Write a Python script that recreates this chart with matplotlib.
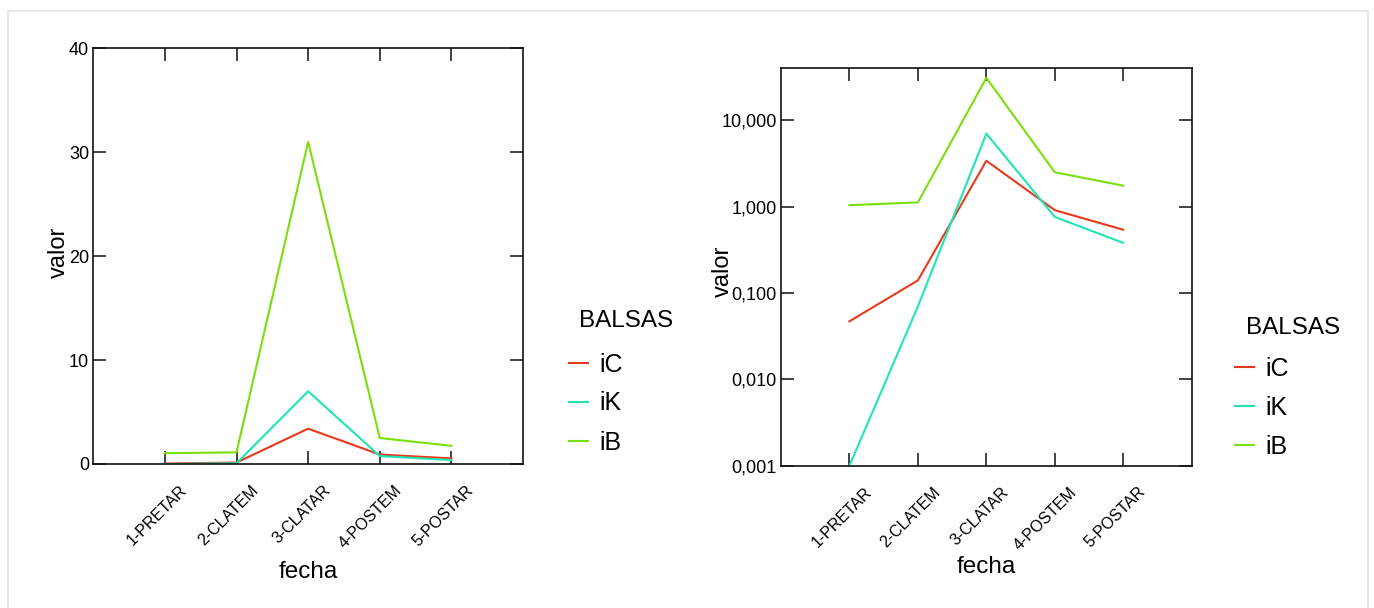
import matplotlib
matplotlib.use("Agg")
import matplotlib.pyplot as plt
import matplotlib.transforms as mtransforms
from matplotlib.patches import Rectangle
from matplotlib.ticker import FixedLocator, FuncFormatter, NullLocator

plt.rcParams['font.family'] = ['Liberation Sans', 'DejaVu Sans']

# ---------------- data ----------------
categories = ["1-PRETAR", "2-CLATEM", "3-CLATAR", "4-POSTEM", "5-POSTAR"]
series_names = ["iC", "iK", "iB"]
iC = [0.047, 0.14, 3.4, 0.91, 0.54]
iK = [0.001, 0.07, 7.0, 0.76, 0.38]
iB = [1.04, 1.12, 31.0, 2.5, 1.75]
series_values = [iC, iK, iB]
colors = ["#E8391D", "#1EE6B4", "#7ADF0A"]
lin_ticks = [0, 10, 20, 30, 40]
log_ticks = [0.001, 0.01, 0.1, 1, 10]
x_label = "fecha"
y_label = "valor"
legend_title = "BALSAS"

W, H = 1374, 608
fig = plt.figure(figsize=(W / 100, H / 100), dpi=100)

# light frame
fig.add_artist(Rectangle((8 / W, -0.05), (1368 - 8) / W, 1.05 - 11 / H,
                         transform=fig.transFigure, fill=False,
                         edgecolor="#e2e2e2", linewidth=1.2))

def px_axes(l, t, r, b):
    return fig.add_axes([l / W, 1 - b / H, (r - l) / W, (b - t) / H])

ax1 = px_axes(93.3, 48.3, 523, 464)
ax2 = px_axes(781, 68.3, 1191.7, 465.7)

xpos = list(range(1, len(categories) + 1))

def style(ax, xlab_y, ylab_x, ylab_y):
    lines = []
    for name, vals, c in zip(series_names, series_values, colors):
        ln, = ax.plot(xpos, vals, color=c, linewidth=1.5, label=name)
        lines.append(ln)
    ax.set_xlim(0, 6)
    ax.xaxis.set_major_locator(FixedLocator(xpos))
    ax.tick_params(axis="both", which="major", direction="in", length=9.4,
                   width=1.2, top=True, right=True, color="#222222")
    ax.tick_params(axis="x", pad=13.4)
    ax.tick_params(axis="y", pad=3, labelsize=13)
    ax.set_xticklabels(categories, rotation=45, ha="right", va="top",
                       rotation_mode="anchor", fontsize=11.5)
    off = mtransforms.ScaledTranslation(14.6 / 100, 0, fig.dpi_scale_trans)
    for lab in ax.get_xticklabels():
        lab.set_transform(lab.get_transform() + off)
    ax.yaxis.set_minor_locator(NullLocator())
    for s in ax.spines.values():
        s.set_linewidth(1.2)
        s.set_color("#111111")
    ax.set_xlabel(x_label, fontsize=17.5, va="baseline")
    ax.xaxis.set_label_coords(0.5, xlab_y)
    ax.set_ylabel(y_label, fontsize=17, va="center", ha="center")
    ax.yaxis.set_label_coords(ylab_x, ylab_y)
    return lines

lines1 = style(ax1, -0.2742, -0.079, 0.51)
ax1.set_ylim(0, 40)
ax1.yaxis.set_major_locator(FixedLocator(lin_ticks))
ax1.yaxis.set_major_formatter(FuncFormatter(lambda v, p: f"{v:.0f}"))

lines2 = style(ax2, -0.270, -0.1412, 0.49)
ax2.set_yscale("log")
ax2.set_ylim(0.001, 40)
ax2.yaxis.set_major_locator(FixedLocator(log_ticks))
ax2.yaxis.set_minor_locator(NullLocator())
ax2.yaxis.set_major_formatter(FuncFormatter(lambda v, p: f"{v:.3f}".replace(".", ",")))

def add_legend(ax, lines, hx, cy, tx, ty):
    leg = fig.legend(handles=lines, labels=series_names, loc="center left",
                     bbox_to_anchor=(hx / W, 1 - cy / H), bbox_transform=fig.transFigure,
                     frameon=False, fontsize=18, handlelength=0.76, handletextpad=0.45,
                     labelspacing=0.6, borderpad=0, borderaxespad=0)
    fig.text(tx / W, 1 - ty / H, legend_title, fontsize=17.5, ha="left", va="center")
    return leg

add_legend(ax1, lines1, 569, 403.5, 579, 321)
add_legend(ax2, lines2, 1235, 408, 1245.7, 327.5)

fig.savefig("out.png", dpi=100)
